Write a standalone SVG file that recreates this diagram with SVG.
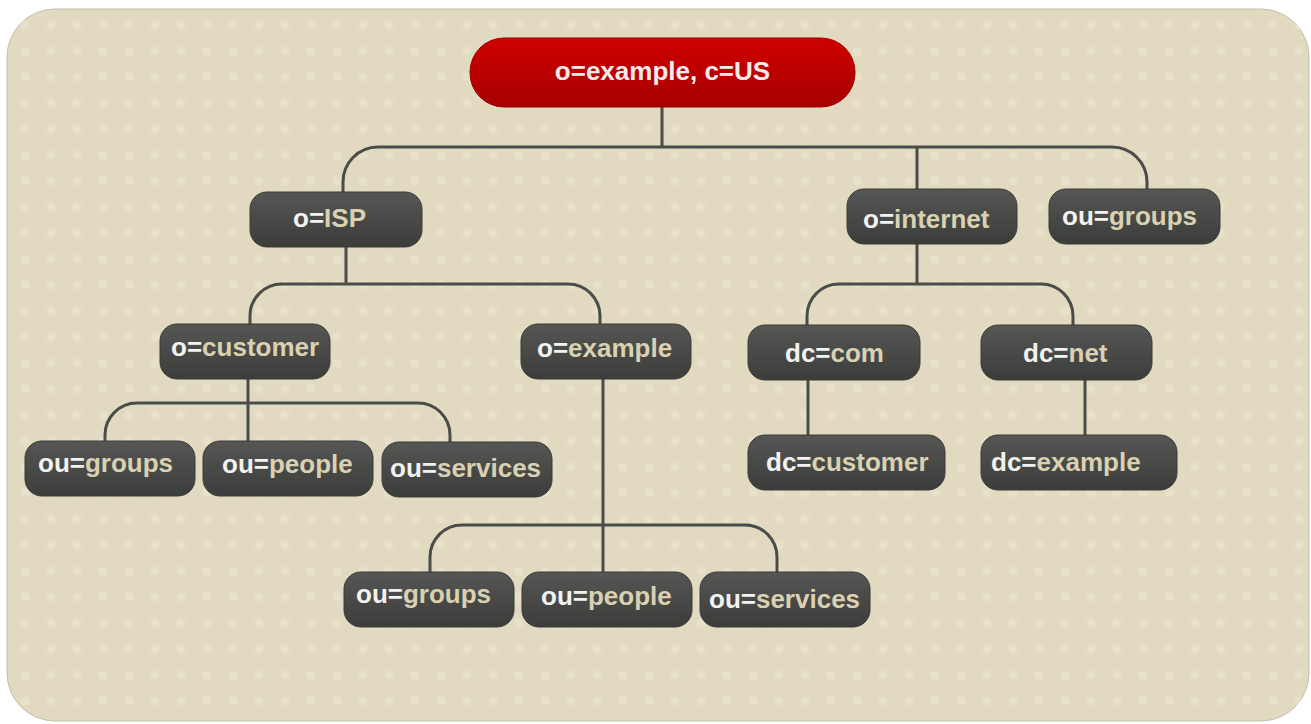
<svg xmlns="http://www.w3.org/2000/svg" width="1311" height="724" viewBox="0 0 1311 724">
  <defs>
    <pattern id="dots" patternUnits="userSpaceOnUse" x="12" y="12" width="26" height="26">
      <circle cx="13" cy="13" r="4.6" fill="#e7e1ca"/>
    </pattern>
    <linearGradient id="nodeFill" x1="0" y1="0" x2="0" y2="1">
      <stop offset="0" stop-color="#565754"/>
      <stop offset="1" stop-color="#3b3d3b"/>
    </linearGradient>
    <linearGradient id="rootFill" x1="0" y1="0" x2="0" y2="1">
      <stop offset="0" stop-color="#d00000"/>
      <stop offset="1" stop-color="#a50000"/>
    </linearGradient>
  </defs>
  <style>
    .node { fill: url(#nodeFill); stroke: #3a3b39; stroke-width: 1; }
    .root { fill: url(#rootFill); stroke: #9e0000; stroke-width: 1; }
    .lbl { font-family: "Liberation Sans", Arial, sans-serif; font-size: 26px; font-weight: bold; }
    .k { fill: #f2f2f0; }
    .v { fill: #d9d1b1; }
    .wire { fill: none; stroke: #4a4c49; stroke-width: 3; }
  </style>

  <!-- panel -->
  <rect x="7" y="9" width="1302" height="712" rx="48" ry="48" fill="#e1dac0" stroke="#c4bfae" stroke-width="1"/>
  <rect x="7" y="9" width="1302" height="712" rx="48" ry="48" fill="url(#dots)"/>

  <!-- connectors -->
  <g id="connectors" class="wire">
    <path d="M662,107 V147"/>
    <path d="M343,192 V182 A35,35 0 0 1 378,147 H1112 A35,35 0 0 1 1147,182 V190"/>
    <path d="M917,147 V190"/>
    <path d="M346,247 V284"/>
    <path d="M250,324 V316 A32,32 0 0 1 282,284 H568 A32,32 0 0 1 600,316 V324"/>
    <path d="M248,379 V441"/>
    <path d="M105,441 V435 A32,32 0 0 1 137,403 H418 A32,32 0 0 1 450,435 V442"/>
    <path d="M603,379 V572"/>
    <path d="M430,572 V557 A32,32 0 0 1 462,525 H745 A32,32 0 0 1 777,557 V572"/>
    <path d="M917,244 V284"/>
    <path d="M807,325 V316 A32,32 0 0 1 839,284 H1041 A32,32 0 0 1 1073,316 V325"/>
    <path d="M808,380 V435"/>
    <path d="M1085,380 V435"/>
  </g>

  <!-- root -->
  <g id="n-root">
    <rect class="root" x="470" y="38" width="385" height="69" rx="34"/>
    <text class="lbl" x="662.5" y="80" text-anchor="middle" fill="#f6eaea">o=example, c=US</text>
  </g>

  <g id="n-isp">
    <rect class="node" x="250" y="192" width="172" height="55" rx="17"/>
    <text class="lbl" x="293" y="227"><tspan class="k">o=</tspan><tspan class="v">ISP</tspan></text>
  </g>
  <g id="n-internet">
    <rect class="node" x="847" y="189" width="170" height="55" rx="17"/>
    <text class="lbl" x="863" y="228"><tspan class="k">o=</tspan><tspan class="v">internet</tspan></text>
  </g>
  <g id="n-groups-top">
    <rect class="node" x="1049" y="189" width="171" height="55" rx="17"/>
    <text class="lbl" x="1062" y="225"><tspan class="k">ou=</tspan><tspan class="v">groups</tspan></text>
  </g>

  <g id="n-customer">
    <rect class="node" x="160" y="324" width="170" height="55" rx="17"/>
    <text class="lbl" x="171" y="356"><tspan class="k">o=</tspan><tspan class="v">customer</tspan></text>
  </g>
  <g id="n-example">
    <rect class="node" x="521" y="324" width="170" height="55" rx="17"/>
    <text class="lbl" x="537" y="357"><tspan class="k">o=</tspan><tspan class="v">example</tspan></text>
  </g>

  <g id="n-cust-groups">
    <rect class="node" x="25" y="441" width="170" height="55" rx="17"/>
    <text class="lbl" x="38" y="472"><tspan class="k">ou=</tspan><tspan class="v">groups</tspan></text>
  </g>
  <g id="n-cust-people">
    <rect class="node" x="203" y="441" width="170" height="55" rx="17"/>
    <text class="lbl" x="222" y="473"><tspan class="k">ou=</tspan><tspan class="v">people</tspan></text>
  </g>
  <g id="n-cust-services">
    <rect class="node" x="382" y="442" width="170" height="55" rx="17"/>
    <text class="lbl" x="390" y="477"><tspan class="k">ou=</tspan><tspan class="v">services</tspan></text>
  </g>

  <g id="n-ex-groups">
    <rect class="node" x="344" y="572" width="170" height="55" rx="17"/>
    <text class="lbl" x="356" y="603"><tspan class="k">ou=</tspan><tspan class="v">groups</tspan></text>
  </g>
  <g id="n-ex-people">
    <rect class="node" x="522" y="572" width="170" height="55" rx="17"/>
    <text class="lbl" x="541" y="605"><tspan class="k">ou=</tspan><tspan class="v">people</tspan></text>
  </g>
  <g id="n-ex-services">
    <rect class="node" x="700" y="572" width="170" height="55" rx="17"/>
    <text class="lbl" x="709" y="608"><tspan class="k">ou=</tspan><tspan class="v">services</tspan></text>
  </g>

  <g id="n-dc-com">
    <rect class="node" x="748" y="325" width="172" height="55" rx="17"/>
    <text class="lbl" x="785" y="362"><tspan class="k">dc=</tspan><tspan class="v">com</tspan></text>
  </g>
  <g id="n-dc-net">
    <rect class="node" x="981" y="325" width="171" height="55" rx="17"/>
    <text class="lbl" x="1023" y="362"><tspan class="k">dc=</tspan><tspan class="v">net</tspan></text>
  </g>
  <g id="n-dc-customer">
    <rect class="node" x="748" y="435" width="197" height="55" rx="17"/>
    <text class="lbl" x="766" y="471"><tspan class="k">dc=</tspan><tspan class="v">customer</tspan></text>
  </g>
  <g id="n-dc-example">
    <rect class="node" x="981" y="435" width="196" height="55" rx="17"/>
    <text class="lbl" x="991" y="471"><tspan class="k">dc=</tspan><tspan class="v">example</tspan></text>
  </g>
</svg>
